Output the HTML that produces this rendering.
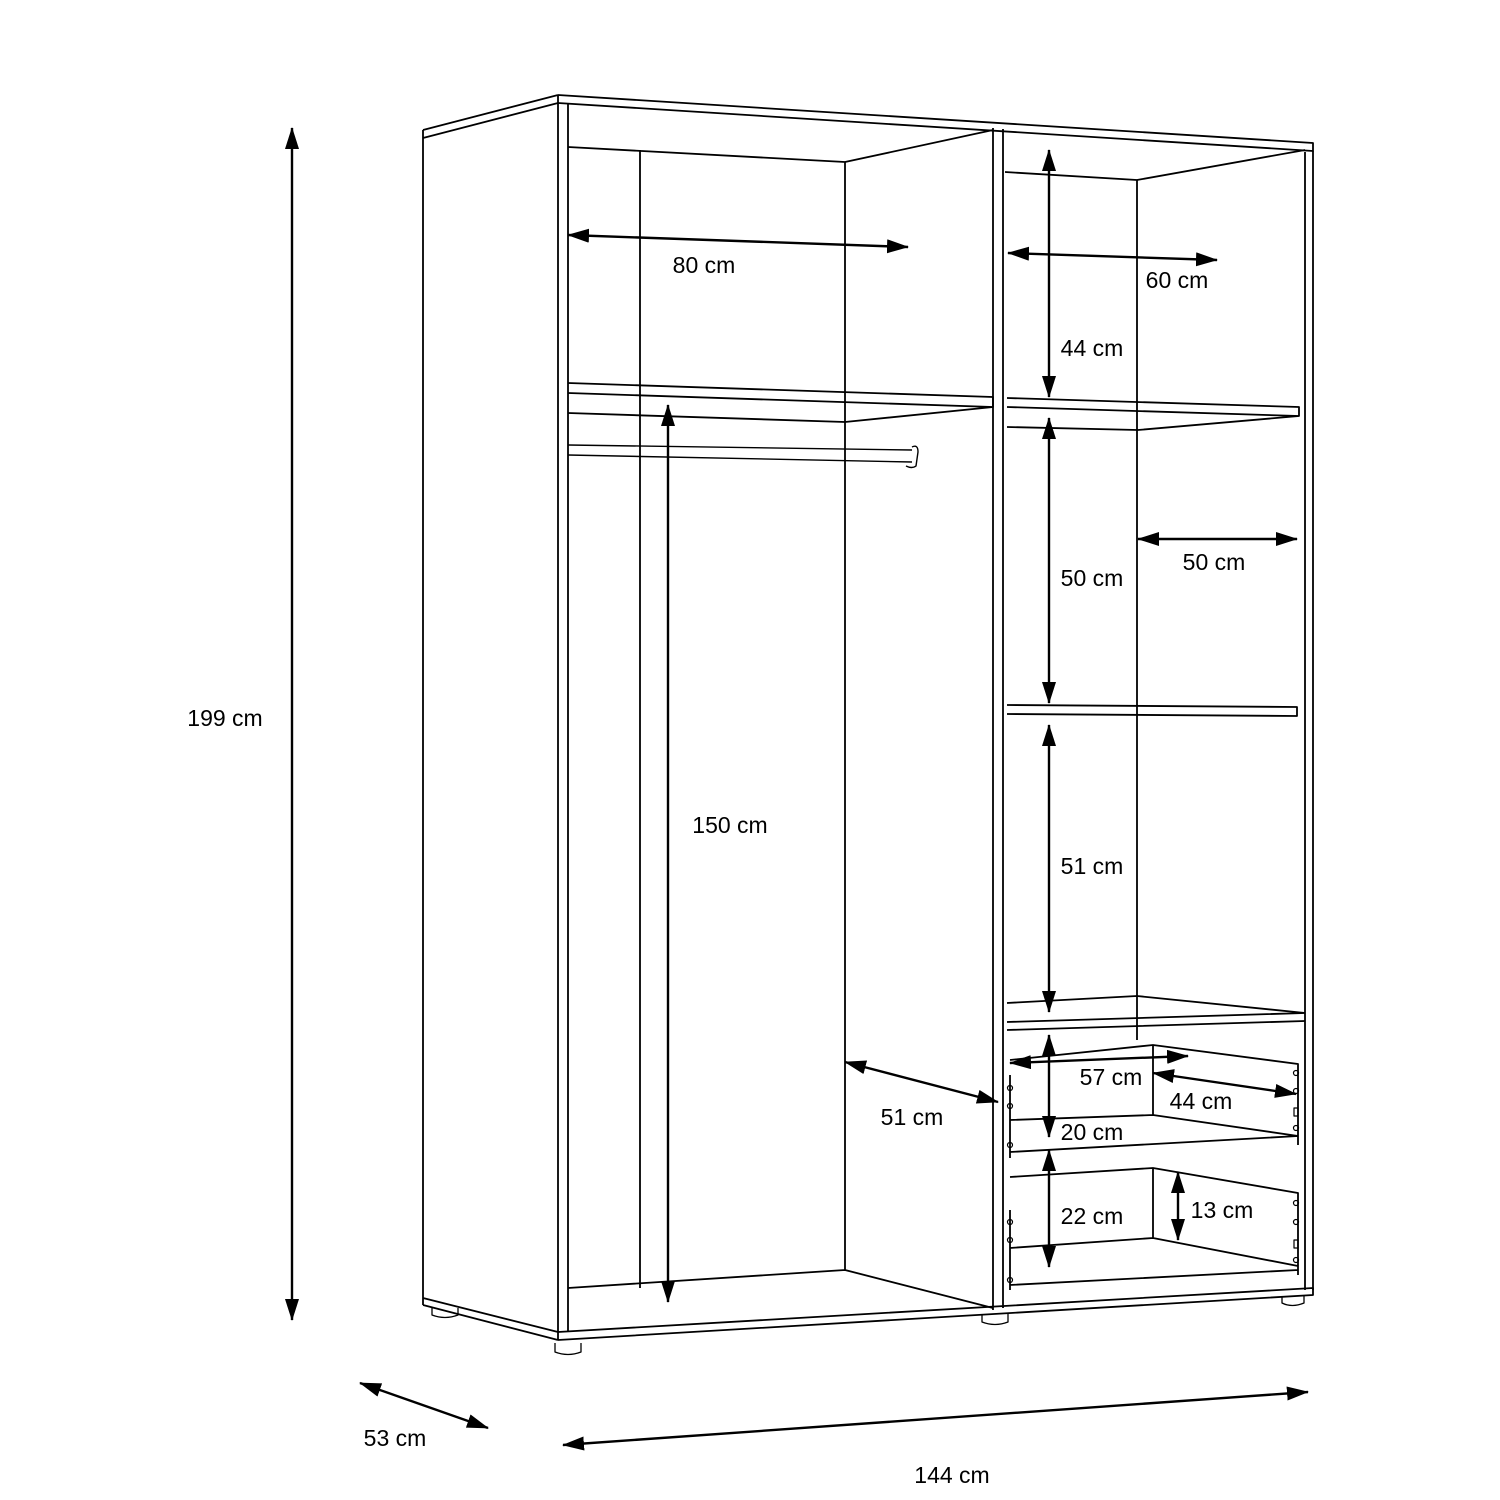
<!DOCTYPE html>
<html><head><meta charset="utf-8"><style>
html,body{margin:0;padding:0;background:#fff;}
svg{display:block;}
text{font-family:"Liberation Sans",sans-serif;font-size:23px;fill:#000;}
</style></head><body>
<svg width="1500" height="1500" viewBox="0 0 1500 1500" xmlns="http://www.w3.org/2000/svg">
<defs>
<marker id="a" viewBox="0 0 22 14" refX="21" refY="7" markerWidth="22" markerHeight="14" markerUnits="userSpaceOnUse" orient="auto-start-reverse">
<path d="M0,0 L22,7 L0,14 Z" fill="#000"/>
</marker>
</defs>
<g fill="none" stroke="#000" stroke-width="1.8" stroke-linejoin="round">
<!-- left side panel -->
<path d="M423,130 L558,95 M423,138 L558,103 M423,130 L423,1305 M423,1298 L558,1332 M423,1305 L558,1340"/>
<!-- top -->
<path d="M558,95 L1313,143 L1313,151 L558,103 M568,103 L568,1332"/>
<path d="M558,95 L558,1340"/>
<!-- right edge -->
<path d="M1313,151 L1313,1290 M1305,152 L1305,1290"/>
<!-- bottom -->
<path d="M558,1340 L1313,1295 L1313,1288 L558,1332"/>
<!-- divider -->
<path d="M993,128 L993,1310 M1003,129 L1003,1308"/>
<!-- left compartment back -->
<path d="M568,147 L845,162 L993,130 M640,150 L640,1288 M845,162 L845,1270 M568,1288 L845,1270 L993,1308"/>
<!-- left shelf -->
<path d="M568,383 L993,397 L993,407 L568,393 M568,413 L845,422 L993,407"/>
<!-- rail -->
<path d="M568,445 L912,450 M568,455 L912,462 M912,447 Q918,444 918,452 L916,466 Q912,469 906,466" stroke-width="1.4"/>
<!-- right compartment back -->
<path d="M1005,172 L1137,180 L1305,150 M1137,180 L1137,1040"/>
<!-- right shelf 1 -->
<path d="M1007,398 L1299,407 L1299,416 L1007,407 M1007,427 L1138,430 L1299,416"/>
<!-- right shelf 2 -->
<path d="M1007,705 L1297,707 L1297,716 L1007,714"/>
<!-- fixed shelf -->
<path d="M1007,1003 L1137,996 L1305,1013 M1007,1022 L1305,1013 M1007,1030 L1305,1021"/>
<!-- drawer 1 -->
<path d="M1010,1060 L1153,1045 L1298,1064 L1298,1145 M1153,1045 L1153,1115 M1010,1120 L1153,1115 L1298,1136 M1010,1152 L1298,1136 M1010,1075 L1010,1158"/>
<!-- drawer 2 -->
<path d="M1010,1177 L1153,1168 L1298,1193 L1298,1275 M1153,1168 L1153,1238 M1010,1248 L1153,1238 L1298,1266 M1010,1285 L1298,1270 M1010,1210 L1010,1290"/>
<!-- drawer hardware -->
<g stroke-width="1.2">
<circle cx="1296" cy="1073" r="2.5"/><circle cx="1296" cy="1091" r="2.5"/><rect x="1294" y="1108" width="4" height="8"/><circle cx="1296" cy="1128" r="2.5"/>
<circle cx="1296" cy="1203" r="2.5"/><circle cx="1296" cy="1222" r="2.5"/><rect x="1294" y="1240" width="4" height="8"/><circle cx="1296" cy="1260" r="2.5"/>
<circle cx="1010" cy="1088" r="2.5"/><circle cx="1010" cy="1106" r="2.5"/><circle cx="1010" cy="1145" r="2.5"/>
<circle cx="1010" cy="1222" r="2.5"/><circle cx="1010" cy="1240" r="2.5"/><circle cx="1010" cy="1280" r="2.5"/>
</g>
<!-- feet -->
<path d="M432,1308 L432,1315 Q445,1320 458,1315 L458,1308 M555,1343 L555,1352 Q568,1357 581,1352 L581,1343 M982,1315 L982,1322 Q995,1327 1008,1322 L1008,1314 M1282,1297 L1282,1303 Q1292,1308 1304,1303 L1304,1296" stroke-width="1.3"/>
</g>
<!-- dimension arrows -->
<g stroke="#000" stroke-width="2.4" fill="none" marker-start="url(#a)" marker-end="url(#a)">
<line x1="292" y1="128" x2="292" y2="1320"/>
<line x1="360" y1="1383" x2="488" y2="1428"/>
<line x1="563" y1="1445" x2="1308" y2="1392"/>
<line x1="568" y1="235" x2="908" y2="247"/>
<line x1="1008" y1="253" x2="1217" y2="260"/>
<line x1="1049" y1="150" x2="1049" y2="397"/>
<line x1="1049" y1="418" x2="1049" y2="703"/>
<line x1="1138" y1="539" x2="1297" y2="539"/>
<line x1="1049" y1="725" x2="1049" y2="1012"/>
<line x1="668" y1="405" x2="668" y2="1302"/>
<line x1="845" y1="1062" x2="998" y2="1102"/>
<line x1="1010" y1="1063" x2="1188" y2="1056"/>
<line x1="1153" y1="1073" x2="1296" y2="1094"/>
<line x1="1049" y1="1035" x2="1049" y2="1137"/>
<line x1="1049" y1="1150" x2="1049" y2="1267"/>
<line x1="1178" y1="1172" x2="1178" y2="1240"/>
</g>
<g text-anchor="middle">
<text x="225" y="726">199 cm</text>
<text x="395" y="1446">53 cm</text>
<text x="952" y="1483">144 cm</text>
<text x="704" y="273">80 cm</text>
<text x="1177" y="288">60 cm</text>
<text x="1092" y="356">44 cm</text>
<text x="1092" y="586">50 cm</text>
<text x="1214" y="570">50 cm</text>
<text x="1092" y="874">51 cm</text>
<text x="730" y="833">150 cm</text>
<text x="912" y="1125">51 cm</text>
<text x="1111" y="1085">57 cm</text>
<text x="1201" y="1109">44 cm</text>
<text x="1092" y="1140">20 cm</text>
<text x="1092" y="1224">22 cm</text>
<text x="1222" y="1218">13 cm</text>
</g>
</svg>
</body></html>
